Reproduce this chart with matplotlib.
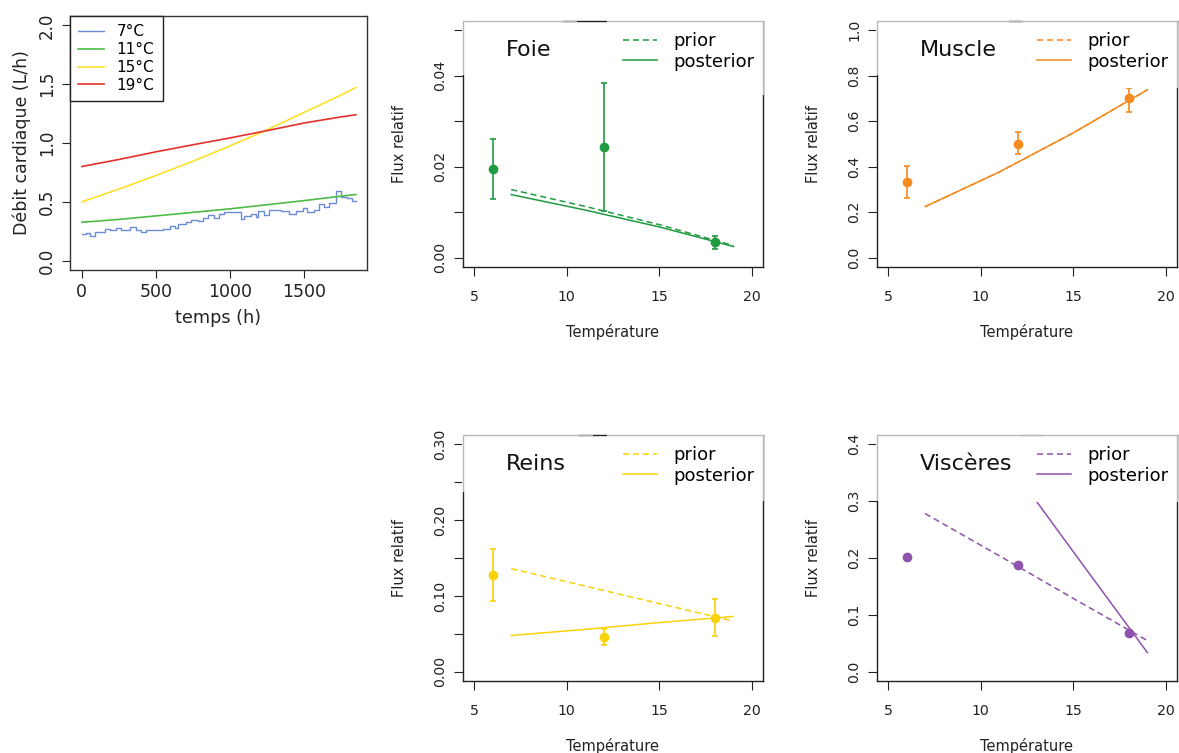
import matplotlib
matplotlib.use('Agg')
import matplotlib.pyplot as plt
from matplotlib.patches import Rectangle

plt.rcParams['font.family'] = ['DejaVu Sans']

# ---------------- Panel 1 : cardiac output vs time ----------------
time_h = [0, 250, 500, 750, 1000, 1250, 1500, 1750, 1850]
debit_11 = [0.326, 0.350, 0.380, 0.410, 0.440, 0.475, 0.510, 0.548, 0.562]
debit_15 = [0.500, 0.608, 0.723, 0.845, 0.975, 1.112, 1.260, 1.408, 1.472]
debit_19 = [0.800, 0.860, 0.925, 0.985, 1.043, 1.105, 1.170, 1.222, 1.240]
step_t = [0, 31, 54, 87, 155, 188, 233, 267, 323, 368, 402, 435, 547, 592, 626,
          648, 704, 738, 783, 816, 850, 895, 929, 962, 1074, 1097, 1142, 1175,
          1187, 1231, 1265, 1344, 1400, 1445, 1490, 1523, 1568, 1602, 1635,
          1669, 1714, 1747, 1792, 1826, 1850]
step_7 = [0.225, 0.235, 0.207, 0.240, 0.270, 0.260, 0.280, 0.264, 0.287, 0.264,
          0.241, 0.264, 0.270, 0.298, 0.280, 0.309, 0.326, 0.343, 0.335, 0.363,
          0.389, 0.363, 0.397, 0.414, 0.357, 0.377, 0.400, 0.370, 0.420, 0.390,
          0.434, 0.420, 0.397, 0.420, 0.448, 0.414, 0.434, 0.483, 0.460, 0.490,
          0.590, 0.539, 0.530, 0.510, 0.510]
series_labels = ['7°C', '11°C', '15°C', '19°C']
series_colors = ['#6b8bd6', '#4cbb47', '#fbe12b', '#e3312d']
p1_xticks = [0, 500, 1000, 1500]
p1_yticks = [0.0, 0.5, 1.0, 1.5, 2.0]
p1_yticklabels = ['0.0', '0.5', '1.0', '1.5', '2.0']

# ---------------- Organ panels ----------------
temp_obs = [6, 12, 18]
temp_model = [7, 11, 15, 19]
temp_xticks = [5, 10, 15, 20]

foie_obs = [0.0196, 0.0244, 0.0035]
foie_lo = [0.0130, 0.0102, 0.0020]
foie_hi = [0.0261, 0.0385, 0.0048]
foie_prior = [0.0150, 0.0113, 0.0073, 0.0027]
foie_post = [0.0139, 0.0105, 0.0068, 0.0025]
foie_yticks = [0.00, 0.01, 0.02, 0.03, 0.04, 0.05]
foie_yticklabels = ['0.00', '', '0.02', '', '0.04', '']

muscle_obs = [0.333, 0.502, 0.701]
muscle_lo = [0.264, 0.454, 0.641]
muscle_hi = [0.403, 0.551, 0.748]
muscle_prior = [0.225, 0.377, 0.549, 0.738]
muscle_post = [0.225, 0.377, 0.549, 0.738]
muscle_yticks = [0.0, 0.2, 0.4, 0.6, 0.8, 1.0]
muscle_yticklabels = ['0.0', '0.2', '0.4', '0.6', '0.8', '1.0']

reins_obs = [0.128, 0.046, 0.071]
reins_lo = [0.094, 0.035, 0.047]
reins_hi = [0.162, 0.057, 0.096]
reins_prior = [0.136, 0.113, 0.090, 0.067]
reins_post = [0.048, 0.056, 0.065, 0.073]
reins_yticks = [0.00, 0.05, 0.10, 0.15, 0.20, 0.25, 0.30]
reins_yticklabels = ['0.00', '', '0.10', '', '0.20', '', '0.30']

visc_obs = [0.201, 0.188, 0.068]
visc_prior = [0.278, 0.204, 0.129, 0.055]
visc_post = [0.566, 0.389, 0.211, 0.034]
visc_yticks = [0.0, 0.1, 0.2, 0.3, 0.4]
visc_yticklabels = ['0.0', '0.1', '0.2', '0.3', '0.4']

W, H = 1179, 753
fig = plt.figure(figsize=(W / 100, H / 100), dpi=100)


def ax_at(l, t, r, b):
    return fig.add_axes([l / W, 1 - b / H, (r - l) / W, (b - t) / H])


# ---------- Panel 1 ----------
ax = ax_at(70, 16, 367, 270)
ax.step(step_t, step_7, where='post', color=series_colors[0], lw=1.0, label=series_labels[0])
ax.plot(time_h, debit_11, color=series_colors[1], lw=1.2, label=series_labels[1])
ax.plot(time_h, debit_15, color=series_colors[2], lw=1.2, label=series_labels[2])
ax.plot(time_h, debit_19, color=series_colors[3], lw=1.2, label=series_labels[3])
ax.set_xlim(-80, 1925)
ax.set_ylim(-0.08, 2.08)
ax.set_xticks(p1_xticks)
ax.set_yticks(p1_yticks)
ax.set_yticklabels(p1_yticklabels, rotation=90, va='center')
ax.tick_params(axis='x', labelsize=12.5, length=6, width=0.8, pad=3.5, colors='#222222')
ax.tick_params(axis='y', labelsize=12, length=6, width=0.8, pad=4, colors='#222222')
for s in ax.spines.values():
    s.set_color('#333333')
    s.set_linewidth(1.0)
ax.set_xlabel('temps (h)', fontsize=12.7, color='#222222')
ax.xaxis.label.set_va('center')
ax.xaxis.set_label_coords(0.5, -0.189)
ax.set_ylabel('Débit cardiaque (L/h)', fontsize=12.5, color='#222222')
ax.yaxis.label.set_va('center')
ax.yaxis.set_label_coords(-0.162, 0.5)
leg = ax.legend(loc='upper left', bbox_to_anchor=(0, 1), borderaxespad=0,
                fancybox=False, edgecolor='#222222', framealpha=1, fontsize=11,
                handlelength=1.7, handletextpad=0.8, labelspacing=0.18,
                borderpad=0.55)
leg.get_frame().set_linewidth(1.0)


# ---------- Organ panels ----------
def cover_box(ax, x0, y0, x1, y1):
    """White box hiding the frame; the covered frame shows through in light grey."""
    e = 0.004
    left_ext = e if x0 <= 0 else 0.0
    ax.add_patch(Rectangle((x0 - left_ext, y0), (x1 - x0) + left_ext + e, (y1 - y0) + e,
                           transform=ax.transAxes, facecolor='white',
                           edgecolor='none', zorder=4, clip_on=False))
    cl = 0.05 if x0 <= 0 else 0.0
    clip = Rectangle((x0 - cl, y0), (x1 - x0) + cl + 0.05, (y1 - y0) + 0.05,
                     transform=ax.transAxes)
    frame = Rectangle((0, 0), 1, 1, transform=ax.transAxes, fill=False,
                      edgecolor='#b8b8b8', lw=1.0, zorder=4.5)
    ax.add_patch(frame)
    frame.set_clip_on(True)
    frame.set_clip_path(clip)


def organ_panel(box, name, color, obs, lo, hi, prior, post, ylim, yticks,
                yticklabels, title_box, legend_box):
    ax = ax_at(*box)
    if lo is not None:
        yerr = [[o - l for o, l in zip(obs, lo)], [h - o for o, h in zip(obs, hi)]]
        ax.errorbar(temp_obs, obs, yerr=yerr, fmt='o', color=color, ms=6,
                    capsize=2.2, elinewidth=1.2, capthick=1.2, zorder=3)
    else:
        ax.plot(temp_obs, obs, 'o', color=color, ms=6, zorder=3)
    lp, = ax.plot(temp_model, prior, color=color, lw=1.1, dashes=(4, 2.5), label='prior', zorder=2)
    lq, = ax.plot(temp_model, post, color=color, lw=1.1, label='posterior', zorder=2)
    ax.set_xlim(4.4, 20.6)
    ax.set_ylim(*ylim)
    ax.set_xticks(temp_xticks)
    ax.set_yticks(yticks)
    ax.set_yticklabels(yticklabels, rotation=90, va='center')
    ax.tick_params(axis='x', labelsize=10.2, length=6.5, width=0.8, pad=10, colors='#222222')
    ax.tick_params(axis='y', labelsize=10.2, length=6.5, width=0.8, pad=5, colors='#222222')
    for s in ax.spines.values():
        s.set_color('#222222')
        s.set_linewidth(1.0)
    ax.set_xlabel('Température', fontsize=10.5, color='#222222')
    ax.xaxis.label.set_va('center')
    ax.xaxis.set_label_coords(0.5, -0.264)
    ax.set_ylabel('Flux relatif', fontsize=10.5, color='#222222')
    ax.yaxis.label.set_va('center')
    ax.yaxis.set_label_coords(-0.21, 0.5)
    tr, tb = title_box
    ll, lb = legend_box
    cover_box(ax, 0, tb, tr, 1)
    cover_box(ax, ll, lb, 1, 1)
    ax.text(0.143, 0.882, name, transform=ax.transAxes, ha='left', va='center',
            fontsize=16, color='#111111', zorder=6)
    lg = ax.legend(handles=[lp, lq], loc='upper left', bbox_to_anchor=(0.533, 0.955),
                   frameon=False, fontsize=13, handlelength=1.9, handletextpad=0.9,
                   labelspacing=0.15, borderpad=0, borderaxespad=0)
    lg.set_zorder(7)
    return ax


organ_panel((463, 21, 763, 267), 'Foie', '#1f9a40', foie_obs, foie_lo, foie_hi,
            foie_prior, foie_post, (-0.002, 0.052), foie_yticks, foie_yticklabels,
            (0.33, 0.78), (0.48, 0.70))
organ_panel((877, 21, 1177, 267), 'Muscle', '#f58a1f', muscle_obs, muscle_lo, muscle_hi,
            muscle_prior, muscle_post, (-0.04, 1.04), muscle_yticks, muscle_yticklabels,
            (0.437, 0.78), (0.483, 0.727))
organ_panel((463, 435, 763, 681), 'Reins', '#f9d20a', reins_obs, reins_lo, reins_hi,
            reins_prior, reins_post, (-0.012, 0.312), reins_yticks, reins_yticklabels,
            (0.383, 0.77), (0.48, 0.73))
organ_panel((877, 435, 1177, 681), 'Viscères', '#8f52ad', visc_obs, None, None,
            visc_prior, visc_post, (-0.016, 0.416), visc_yticks, visc_yticklabels,
            (0.50, 0.73), (0.48, 0.726))

fig.savefig('out.png', dpi=100, facecolor='white')
